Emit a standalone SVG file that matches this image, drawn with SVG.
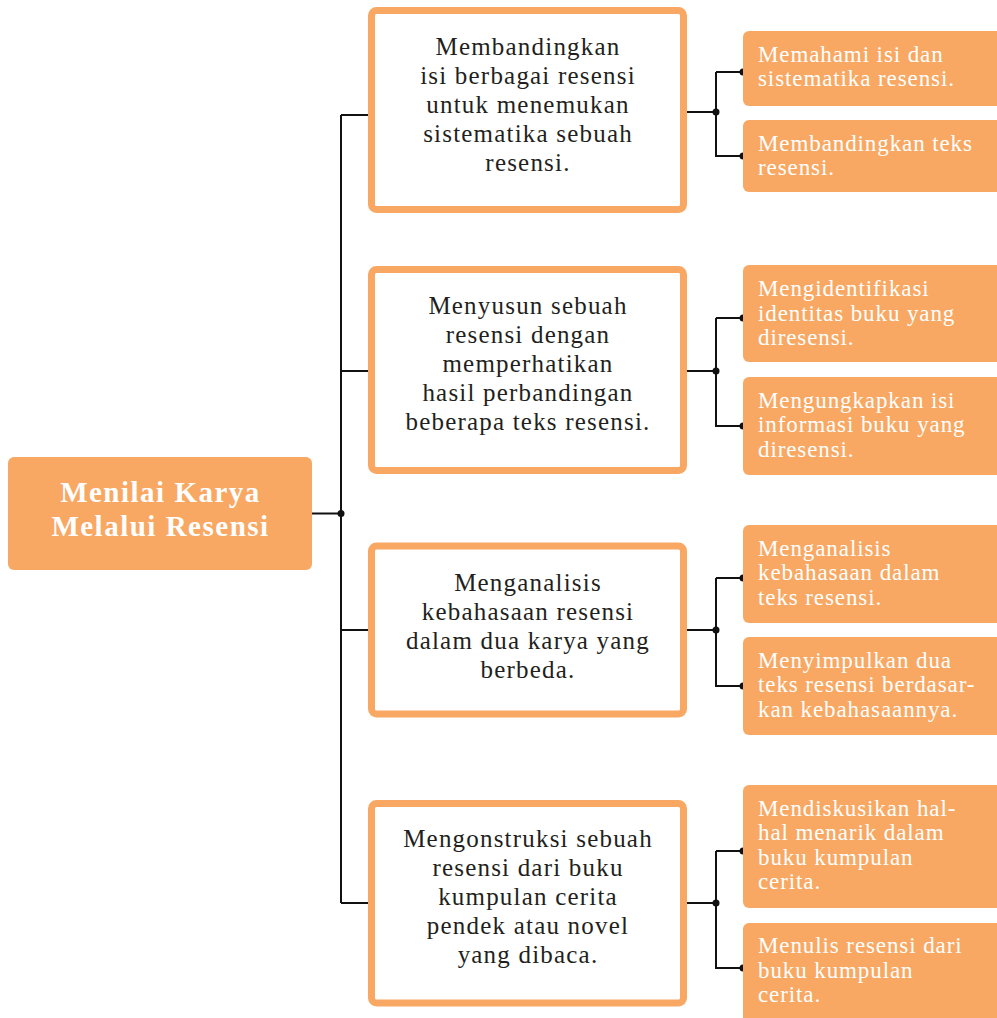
<svg xmlns="http://www.w3.org/2000/svg" width="997" height="1018" viewBox="0 0 997 1018">
<style>
.root{fill:#F8A863}
.mid{fill:#FFFFFF;stroke:#F8A863;stroke-width:7}
.child{fill:#F8A863}
.rt{font-family:"Liberation Serif",serif;font-weight:bold;font-size:29px;letter-spacing:1.5px;fill:#FFFFFF;text-anchor:middle}
.mt{font-family:"Liberation Serif",serif;font-size:25px;letter-spacing:1.2px;fill:#231F20;text-anchor:middle}
.ct{font-family:"Liberation Serif",serif;font-size:23px;letter-spacing:0.9px;fill:#FFFFFF}
.ln{fill:none;stroke:#111111;stroke-width:2}
.dot{fill:#111111}
</style>
<rect width="997" height="1018" fill="#FFFFFF"/>
<g id="connectors">
<path class="ln" d="M312 513.5H341M341 115V903M341 115H372M341 371H372M341 630H372M341 903H372"/>
<path class="ln" d="M687 112H716M716 72H743M716 72V156H743"/>
<path class="ln" d="M687 371H716M716 318H743M716 318V426H743"/>
<path class="ln" d="M687 630H716M716 578H743M716 578V686H743"/>
<path class="ln" d="M687 903H716M716 851H743M716 851V968H743"/>
<circle class="dot" cx="341" cy="513.5" r="3.5"/>
<circle class="dot" cx="372" cy="115" r="3.5"/>
<circle class="dot" cx="372" cy="371" r="3.5"/>
<circle class="dot" cx="372" cy="630" r="3.5"/>
<circle class="dot" cx="372" cy="903" r="3.5"/>
<circle class="dot" cx="716" cy="112" r="3.5"/>
<circle class="dot" cx="743" cy="72" r="3.5"/>
<circle class="dot" cx="743" cy="156" r="3.5"/>
<circle class="dot" cx="716" cy="371" r="3.5"/>
<circle class="dot" cx="743" cy="318" r="3.5"/>
<circle class="dot" cx="743" cy="426" r="3.5"/>
<circle class="dot" cx="716" cy="630" r="3.5"/>
<circle class="dot" cx="743" cy="578" r="3.5"/>
<circle class="dot" cx="743" cy="686" r="3.5"/>
<circle class="dot" cx="716" cy="903" r="3.5"/>
<circle class="dot" cx="743" cy="851" r="3.5"/>
<circle class="dot" cx="743" cy="968" r="3.5"/>
</g>
<g id="root">
<rect class="root" x="8" y="457" width="304" height="113" rx="6"/>
<text class="rt" x="160.5" y="501.5">Menilai Karya</text>
<text class="rt" x="160.5" y="535.5">Melalui Resensi</text>
</g>
<g id="mid1">
<rect class="mid" x="371.5" y="10.5" width="312" height="199" rx="5"/>
<text class="mt" x="528" y="55">Membandingkan</text>
<text class="mt" x="528" y="84">isi berbagai resensi</text>
<text class="mt" x="528" y="113">untuk menemukan</text>
<text class="mt" x="528" y="142">sistematika sebuah</text>
<text class="mt" x="528" y="171">resensi.</text>
</g>
<g id="mid2">
<rect class="mid" x="371.5" y="269.5" width="312" height="201" rx="5"/>
<text class="mt" x="528" y="314">Menyusun sebuah</text>
<text class="mt" x="528" y="343">resensi dengan</text>
<text class="mt" x="528" y="372">memperhatikan</text>
<text class="mt" x="528" y="401">hasil perbandingan</text>
<text class="mt" x="528" y="430">beberapa teks resensi.</text>
</g>
<g id="mid3">
<rect class="mid" x="371.5" y="546" width="312" height="168" rx="5"/>
<text class="mt" x="528" y="591">Menganalisis</text>
<text class="mt" x="528" y="620">kebahasaan resensi</text>
<text class="mt" x="528" y="649">dalam dua karya yang</text>
<text class="mt" x="528" y="678">berbeda.</text>
</g>
<g id="mid4">
<rect class="mid" x="371.5" y="803.5" width="312" height="199.5" rx="5"/>
<text class="mt" x="528" y="847">Mengonstruksi sebuah</text>
<text class="mt" x="528" y="876">resensi dari buku</text>
<text class="mt" x="528" y="905">kumpulan cerita</text>
<text class="mt" x="528" y="934">pendek atau novel</text>
<text class="mt" x="528" y="963">yang dibaca.</text>
</g>
<g id="child1a">
<rect class="child" x="743" y="31" width="262" height="75" rx="6"/>
<text class="ct" x="758" y="61.5">Memahami isi dan</text>
<text class="ct" x="758" y="86">sistematika resensi.</text>
</g>
<g id="child1b">
<rect class="child" x="743" y="120" width="262" height="72" rx="6"/>
<text class="ct" x="758" y="150.5">Membandingkan teks</text>
<text class="ct" x="758" y="175">resensi.</text>
</g>
<g id="child2a">
<rect class="child" x="743" y="265" width="262" height="97" rx="6"/>
<text class="ct" x="758" y="296">Mengidentifikasi</text>
<text class="ct" x="758" y="320.5">identitas buku yang</text>
<text class="ct" x="758" y="345">diresensi.</text>
</g>
<g id="child2b">
<rect class="child" x="743" y="377" width="262" height="98" rx="6"/>
<text class="ct" x="758" y="407.5">Mengungkapkan isi</text>
<text class="ct" x="758" y="432">informasi buku yang</text>
<text class="ct" x="758" y="456.5">diresensi.</text>
</g>
<g id="child3a">
<rect class="child" x="743" y="525" width="262" height="98" rx="6"/>
<text class="ct" x="758" y="555.5">Menganalisis</text>
<text class="ct" x="758" y="580">kebahasaan dalam</text>
<text class="ct" x="758" y="604.5">teks resensi.</text>
</g>
<g id="child3b">
<rect class="child" x="743" y="637" width="262" height="98" rx="6"/>
<text class="ct" x="758" y="667.5">Menyimpulkan dua</text>
<text class="ct" x="758" y="692">teks resensi berdasar-</text>
<text class="ct" x="758" y="716.5">kan kebahasaannya.</text>
</g>
<g id="child4a">
<rect class="child" x="743" y="785" width="262" height="123" rx="6"/>
<text class="ct" x="758" y="815.5">Mendiskusikan hal-</text>
<text class="ct" x="758" y="840">hal menarik dalam</text>
<text class="ct" x="758" y="864.5">buku kumpulan</text>
<text class="ct" x="758" y="889">cerita.</text>
</g>
<g id="child4b">
<rect class="child" x="743" y="923" width="262" height="105" rx="6"/>
<text class="ct" x="758" y="953">Menulis resensi dari</text>
<text class="ct" x="758" y="977.5">buku kumpulan</text>
<text class="ct" x="758" y="1002">cerita.</text>
</g>
</svg>
